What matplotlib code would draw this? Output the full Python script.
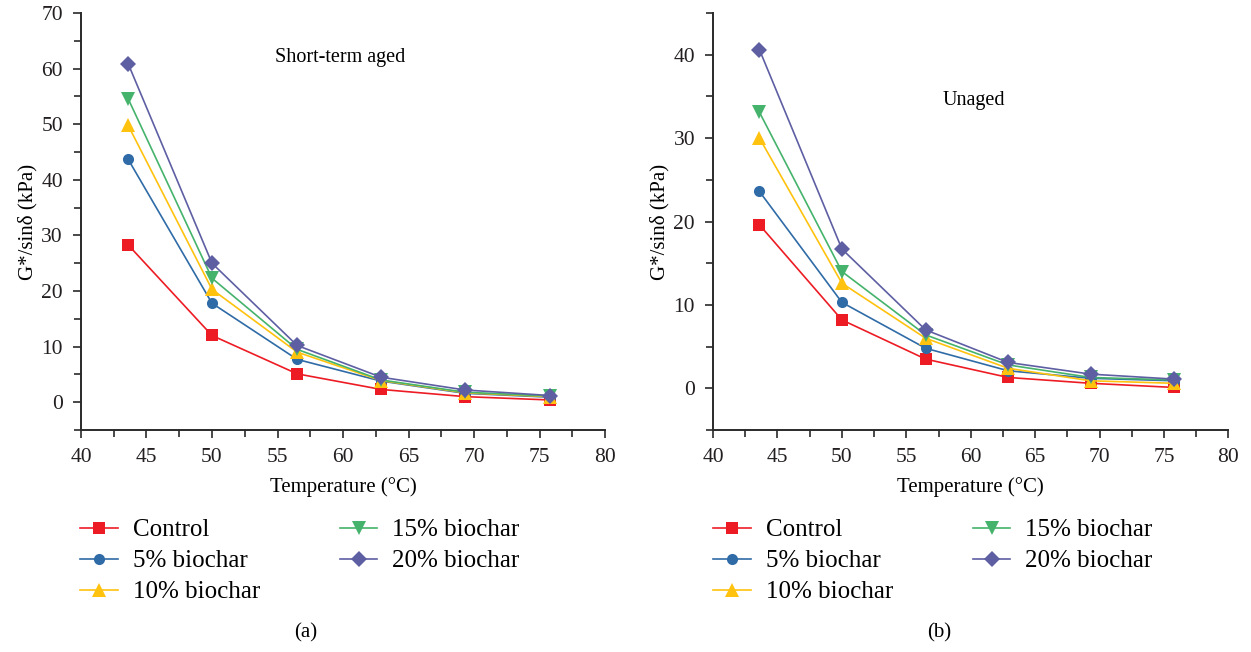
import numpy as np
import matplotlib.pyplot as plt
from matplotlib.ticker import MultipleLocator

plt.rcParams['font.family'] = ['Liberation Serif', 'DejaVu Serif']

temps = [43.6, 50.0, 56.5, 62.9, 69.3, 75.8]  # test temperatures, °C
labels = ["Control", "5% biochar", "10% biochar", "15% biochar", "20% biochar"]

# G*/sin(delta), kPa - short-term aged binder
aged_control = [28.3, 12.0, 5.1, 2.3, 1.0, 0.4]
aged_5 = [43.7, 17.8, 7.7, 3.8, 1.6, 0.9]
aged_10 = [49.8, 20.3, 9.0, 3.9, 1.7, 1.0]
aged_15 = [54.6, 22.3, 9.5, 4.0, 1.8, 1.1]
aged_20 = [60.9, 25.0, 10.2, 4.5, 2.2, 1.2]

# G*/sin(delta), kPa - unaged binder
unaged_control = [19.6, 8.2, 3.5, 1.3, 0.6, 0.1]
unaged_5 = [23.6, 10.3, 4.8, 2.1, 1.2, 0.9]
unaged_10 = [30.0, 12.6, 6.0, 2.4, 0.9, 0.6]
unaged_15 = [33.1, 14.0, 6.4, 2.8, 1.3, 1.0]
unaged_20 = [40.6, 16.7, 7.0, 3.1, 1.7, 1.1]

colors = ["#ED1C24", "#2F6BA6", "#FFC20E", "#45B36B", "#5E5FA3"]
markers = ["s", "o", "^", "v", "D"]
msizes = [8, 8, 9.5, 9.5, 8]

fig = plt.figure(figsize=(12.51, 6.52), dpi=100)
ax1 = fig.add_axes([0.0647, 0.3405, 0.419, 0.6395])
ax2 = fig.add_axes([0.570, 0.3405, 0.412, 0.6395])


def draw(ax, series, ylim, note, note_xy, tag, leg_x, tag_x):
    for vals, lab, c, m, ms in zip(series, labels, colors, markers, msizes):
        ax.plot(temps, vals, color=c, marker=m, markersize=ms, lw=1.2,
                markeredgewidth=0, label=lab)
    ax.set_xlim(40, 80)
    ax.set_ylim(*ylim)
    ax.xaxis.set_major_locator(MultipleLocator(5))
    ax.xaxis.set_minor_locator(MultipleLocator(2.5))
    ax.yaxis.set_major_locator(MultipleLocator(10))
    ax.yaxis.set_minor_locator(MultipleLocator(5))
    ax.tick_params(which='major', direction='out', length=6, width=1.2, labelsize=15.5,
                   pad=7, colors='#2A2A2A', labelcolor='#231F20')
    ax.tick_params(which='minor', direction='out', length=5, width=1.2, colors='#2A2A2A')
    for s in ['top', 'right']:
        ax.spines[s].set_visible(False)
    for s in ['left', 'bottom']:
        ax.spines[s].set_linewidth(1.4)
        ax.spines[s].set_color('#2A2A2A')
    ax.set_xlabel("Temperature (°C)", fontsize=15, labelpad=7)
    ax.set_ylabel("G*/sinδ (kPa)", fontsize=15, labelpad=3)
    ax.text(note_xy[0], note_xy[1], note, fontsize=14.5, ha='center', va='center')
    fig.legend(handles=ax.get_lines(), loc='upper left', bbox_to_anchor=(leg_x, 0.204),
               ncol=2, frameon=False, fontsize=18, handlelength=1.5,
               handletextpad=0.6, labelspacing=0.34, columnspacing=3.2,
               borderaxespad=0, borderpad=0)
    fig.text(tag_x, 0.03, tag, fontsize=15, ha='center', va='center')


draw(ax1, [aged_control, aged_5, aged_10, aged_15, aged_20], (-5, 70),
     "Short-term aged", (59.8, 62), "(a)", 0.064, 0.244)
draw(ax2, [unaged_control, unaged_5, unaged_10, unaged_15, unaged_20], (-5, 45),
     "Unaged", (60.2, 34.5), "(b)", 0.570, 0.751)

fig.savefig("out.png", dpi=100)
